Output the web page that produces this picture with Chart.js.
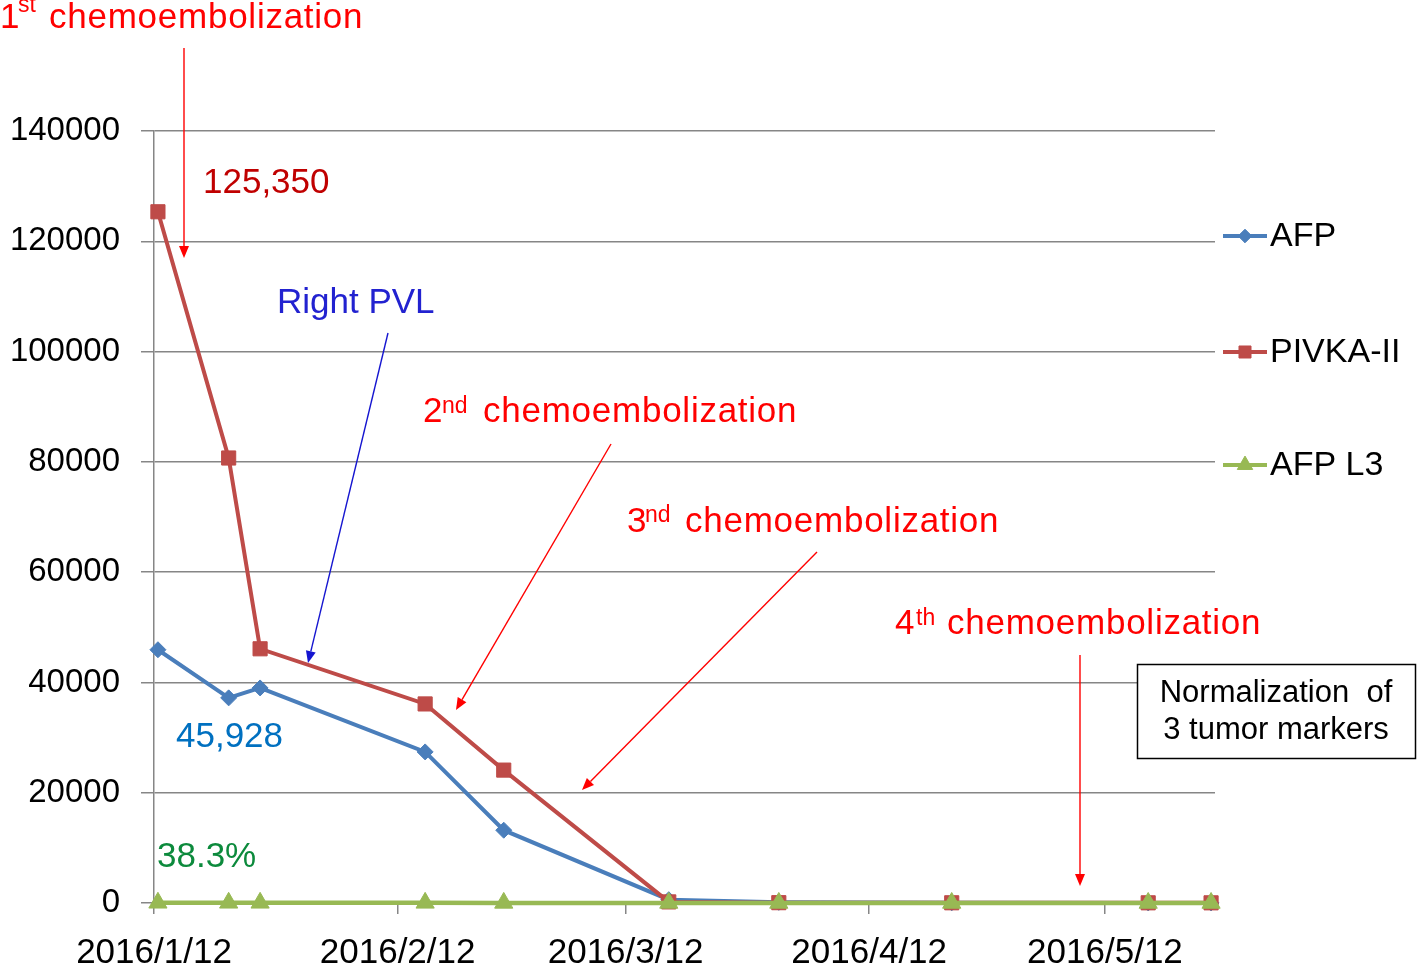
<!DOCTYPE html>
<html>
<head>
<meta charset="utf-8">
<script src="https://cdn.jsdelivr.net/npm/chart.js@4.4.1/dist/chart.umd.min.js"></script>
<style>
  html, body { margin: 0; padding: 0; background: #ffffff; }
  #wrap { width: 1418px; height: 968px; position: relative; }
</style>
</head>
<body>
<div id="wrap"><canvas id="c" width="1418" height="968"></canvas></div>
<script>
// ---------- data ----------
const sampleDates = ['2016/1/12','2016/1/21','2016/1/25','2016/2/15','2016/2/25','2016/3/17','2016/3/31','2016/4/22','2016/5/17','2016/5/25'];
const afpValues   = [45928, 37200, 39000, 27400, 13200, 600, 120, 30, 15, 10];
const pivkaValues = [125350, 80700, 46100, 36100, 24100, 200, 60, 40, 35, 30];
const afpL3Values = [38.3, 35, 33, 28, 20, 12, 9, 6, 5, 5];
const seriesNames = ['AFP', 'PIVKA-II', 'AFP L3'];
const tickDates = ['2016/1/12','2016/2/12','2016/3/12','2016/4/12','2016/5/12'];
const yTicks = [0, 20000, 40000, 60000, 80000, 100000, 120000, 140000];

// ---------- helpers ----------
const FONT = '"Liberation Sans", Arial, sans-serif';
function dayOf(s) {
  const [y, m, d] = s.split('/').map(Number);
  return (Date.UTC(y, m - 1, d) - Date.UTC(2016, 0, 12)) / 86400000;
}
// points are centred in their day (date-axis style)
const xs = sampleDates.map(d => dayOf(d) + 0.5);
const tickDays = tickDates.map(dayOf);
const mk = vals => vals.map((v, i) => ({ x: xs[i], y: v }));

const COLORS = { afp: '#4A7EBB', pivka: '#BE4B48', l3: '#98B954', grid: '#868686' };

const datasets = [
  { label: seriesNames[0], data: mk(afpValues), borderColor: COLORS.afp, backgroundColor: COLORS.afp,
    borderWidth: 4, pointStyle: 'rectRot', pointRadius: 8, pointBorderWidth: 1, order: 3, clip: false },
  { label: seriesNames[1], data: mk(pivkaValues), borderColor: COLORS.pivka, backgroundColor: COLORS.pivka,
    borderWidth: 4, pointStyle: 'rect', pointRadius: 10, pointBorderWidth: 1, order: 2, clip: false },
  { label: seriesNames[2], data: mk(afpL3Values), borderColor: COLORS.l3, backgroundColor: COLORS.l3,
    borderWidth: 4.5, pointStyle: 'triangle', pointRadius: 10.5, pointBorderWidth: 1, order: 1, clip: false }
];

// ---------- annotations (page pixel positions) ----------
const chemoNotes = [
  { num: '1', sup: 'st', x: 0,   y: 28,  supX: 18,  supY: 12,  chemoX: 49 },
  { num: '2', sup: 'nd', x: 423, y: 422, supX: 442, supY: 413, chemoX: 483 },
  { num: '3', sup: 'nd', x: 627, y: 532, supX: 645, supY: 522, chemoX: 685 },
  { num: '4', sup: 'th', x: 895, y: 634, supX: 916, supY: 625, chemoX: 947 }
];
const plainNotes = [
  { text: '125,350',   x: 203, y: 193, size: 35, color: '#C00000' },
  { text: 'Right PVL', x: 277, y: 313, size: 35, color: '#2222D0' },
  { text: '45,928',    x: 176, y: 747, size: 35, color: '#0070C0' },
  { text: '38.3%',     x: 157, y: 867, size: 35, color: '#0C8A3C' }
];
const arrows = [
  { x1: 184,  y1: 48,  x2: 184, y2: 258, color: '#FF0000' },
  { x1: 388,  y1: 333, x2: 308, y2: 663, color: '#1515D0' },
  { x1: 611,  y1: 444, x2: 456, y2: 710, color: '#FF0000' },
  { x1: 817,  y1: 552, x2: 582, y2: 790, color: '#FF0000' },
  { x1: 1080, y1: 655, x2: 1080, y2: 886, color: '#FF0000' }
];
const boxNote = { x: 1137, y: 664, w: 278, h: 94, lines: ['Normalization  of', '3 tumor markers'], baselines: [702, 739] };
const legendRows = [236, 352, 465];

function drawArrow(ctx, a) {
  const ang = Math.atan2(a.y2 - a.y1, a.x2 - a.x1);
  const hl = 12, hw = 5;
  const bx = a.x2 - hl * Math.cos(ang), by = a.y2 - hl * Math.sin(ang);
  ctx.save();
  ctx.strokeStyle = a.color; ctx.fillStyle = a.color; ctx.lineWidth = 1.4;
  ctx.beginPath(); ctx.moveTo(a.x1, a.y1); ctx.lineTo(bx, by); ctx.stroke();
  ctx.beginPath();
  ctx.moveTo(a.x2, a.y2);
  ctx.lineTo(bx + hw * Math.sin(ang), by - hw * Math.cos(ang));
  ctx.lineTo(bx - hw * Math.sin(ang), by + hw * Math.cos(ang));
  ctx.closePath(); ctx.fill();
  ctx.restore();
}

const annotPlugin = {
  id: 'annot',
  afterDraw(chart) {
    const ctx = chart.ctx;
    ctx.save();
    ctx.textBaseline = 'alphabetic';
    ctx.textAlign = 'left';
    chemoNotes.forEach(n => {
      ctx.fillStyle = '#FF0000';
      ctx.font = '35px ' + FONT;
      ctx.letterSpacing = '0px';
      ctx.fillText(n.num, n.x, n.y);
      ctx.font = '23px ' + FONT;
      ctx.fillText(n.sup, n.supX, n.supY);
      ctx.font = '35px ' + FONT;
      ctx.letterSpacing = '0.75px';
      ctx.fillText('chemoembolization', n.chemoX, n.y);
      ctx.letterSpacing = '0px';
    });
    plainNotes.forEach(n => {
      ctx.fillStyle = n.color;
      ctx.font = n.size + 'px ' + FONT;
      ctx.fillText(n.text, n.x, n.y);
    });
    arrows.forEach(a => drawArrow(ctx, a));
    // box
    ctx.fillStyle = '#ffffff';
    ctx.fillRect(boxNote.x, boxNote.y, boxNote.w, boxNote.h);
    ctx.strokeStyle = '#000000'; ctx.lineWidth = 1.5;
    ctx.strokeRect(boxNote.x + 0.5, boxNote.y + 0.5, boxNote.w, boxNote.h);
    ctx.fillStyle = '#000000';
    ctx.font = '31px ' + FONT;
    ctx.textAlign = 'center';
    boxNote.lines.forEach((t, i) => ctx.fillText(t, boxNote.x + boxNote.w / 2, boxNote.baselines[i]));
    // legend
    ctx.textAlign = 'left';
    ctx.textBaseline = 'middle';
    chart.data.datasets.forEach((ds, i) => {
      const y = legendRows[i];
      ctx.strokeStyle = ds.borderColor; ctx.lineWidth = 4;
      ctx.beginPath(); ctx.moveTo(1223, y); ctx.lineTo(1267, y); ctx.stroke();
      ctx.fillStyle = ds.backgroundColor; ctx.strokeStyle = ds.borderColor; ctx.lineWidth = 1;
      Chart.helpers.drawPoint(ctx, { pointStyle: ds.pointStyle, radius: ds.pointRadius * 0.85, rotation: 0, borderWidth: 1 }, 1245, y);
      ctx.fillStyle = '#000000';
      ctx.font = '34px ' + FONT;
      ctx.fillText(ds.label, 1270, y + 1);
    });
    ctx.restore();
  }
};

Chart.defaults.font.family = FONT;
Chart.defaults.color = '#000000';

new Chart(document.getElementById('c'), {
  type: 'line',
  data: { datasets },
  options: {
    responsive: false,
    devicePixelRatio: 1,
    animation: false,
    events: [],
    layout: { padding: { left: 0, right: 203, top: 131, bottom: 0 } },
    plugins: { legend: { display: false }, tooltip: { enabled: false } },
    scales: {
      x: {
        type: 'linear',
        min: 0,
        max: 135,
        afterBuildTicks: s => { s.ticks = tickDays.map(v => ({ value: v })); },
        afterFit: s => { s.height = 65; },
        ticks: {
          font: { size: 35 },
          color: '#000000',
          padding: 18,
          maxRotation: 0,
          autoSkip: false,
          callback: v => { const i = tickDays.indexOf(v); return i >= 0 ? tickDates[i] : ''; }
        },
        grid: { drawOnChartArea: false, drawTicks: true, tickLength: 11, color: COLORS.grid, lineWidth: 1.5 },
        border: { display: true, color: COLORS.grid, width: 1.5 }
      },
      y: {
        type: 'linear',
        min: 0,
        max: 140000,
        afterBuildTicks: s => { s.ticks = yTicks.map(v => ({ value: v })); },
        afterFit: s => { s.width = 154; },
        ticks: {
          font: { size: 33 },
          color: '#000000',
          padding: 21,
          callback: v => String(v)
        },
        grid: { color: COLORS.grid, lineWidth: 1.5, tickLength: 13, drawTicks: true },
        border: { display: true, color: COLORS.grid, width: 1.5 }
      }
    }
  },
  plugins: [annotPlugin]
});
</script>
</body>
</html>
